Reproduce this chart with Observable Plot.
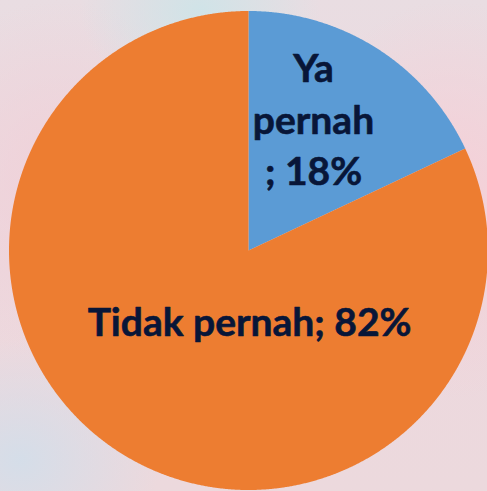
<!DOCTYPE html>
<html>
<head>
<meta charset="utf-8">
<script src="https://cdn.jsdelivr.net/npm/d3@7"></script>
<script src="https://cdn.jsdelivr.net/npm/@observablehq/plot@0.6"></script>
<style>
  html, body { margin: 0; padding: 0; }
  body {
    width: 487px; height: 491px; overflow: hidden;
    background:
      radial-gradient(ellipse 120px 90px at 200px 10px, rgba(205,228,232,0.9), rgba(205,228,232,0) 100%),
      radial-gradient(ellipse 140px 120px at 20px 460px, rgba(210,222,234,0.9), rgba(210,222,234,0) 100%),
      radial-gradient(ellipse 160px 200px at 450px 200px, rgba(246,206,214,0.9), rgba(246,206,214,0) 100%),
      radial-gradient(ellipse 160px 180px at 60px 180px, rgba(240,208,216,0.9), rgba(240,208,216,0) 100%),
      linear-gradient(180deg, #e9dde2 0%, #edd8de 50%, #ecd9dd 100%);
  }
  #chart svg { display: block; }
</style>
</head>
<body>
<div id="chart"></div>
<script>
// ---- data ----
const categories = ["Ya pernah", "Tidak pernah"];
const values = [18, 82];
const labels = ["Ya\npernah\n; 18%", "Tidak pernah; 82%"];
const colors = ["#5B9BD5", "#ED7D31"];

// ---- geometry (derived from data) ----
const rows = categories.map((c, i) => ({cat: c, value: values[i], label: labels[i]}));
const arcs = d3.pie().sort(null).value(d => d.value)(rows);

const R = 1;
const pts = [];
for (const a of arcs) {
  pts.push({cat: a.data.cat, x: 0, y: 0});
  const n = Math.max(2, Math.ceil((a.endAngle - a.startAngle) / 0.004));
  for (let k = 0; k <= n; k++) {
    const t = a.startAngle + (a.endAngle - a.startAngle) * k / n;
    pts.push({cat: a.data.cat, x: R * Math.sin(t), y: R * Math.cos(t)});
  }
}

function labelPoint(a, f) {
  const m = (a.startAngle + a.endAngle) / 2;
  return {cat: a.data.cat, label: a.data.label, x: f * Math.sin(m), y: f * Math.cos(m)};
}
const lblBlue = [labelPoint(arcs[0], 0.6)];
const lblOrange = [labelPoint(arcs[1], 0.35)];

const W = 487, H = 491, rad = 239.5, cx = 248, cy = 250;

const font = "Lato, 'Open Sans', sans-serif";
const textColor = "#081638";

const chart = Plot.plot({
  width: W,
  height: H,
  margin: 0,
  x: {domain: [-cx / rad, (W - cx) / rad], axis: null},
  y: {domain: [(cy - H) / rad, cy / rad], axis: null},
  color: {domain: categories, range: colors},
  style: {background: "transparent", overflow: "visible"},
  marks: [
    Plot.line(pts, {x: "x", y: "y", z: "cat", fill: "cat", stroke: "none", curve: "linear-closed"}),
    Plot.text(lblBlue, {
      x: "x", y: "y", text: "label",
      fontSize: 39, fontWeight: 700, fontFamily: font, fill: textColor,
      stroke: textColor, strokeWidth: 0.6,
      lineHeight: 1.32, dx: -12, dy: -12
    }),
    Plot.text(lblOrange, {
      x: "x", y: "y", text: "label",
      fontSize: 39, fontWeight: 700, fontFamily: font, fill: textColor,
      stroke: textColor, strokeWidth: 0.6,
      dx: 46, dy: 2
    })
  ]
});
document.getElementById("chart").appendChild(chart);
</script>
</body>
</html>
